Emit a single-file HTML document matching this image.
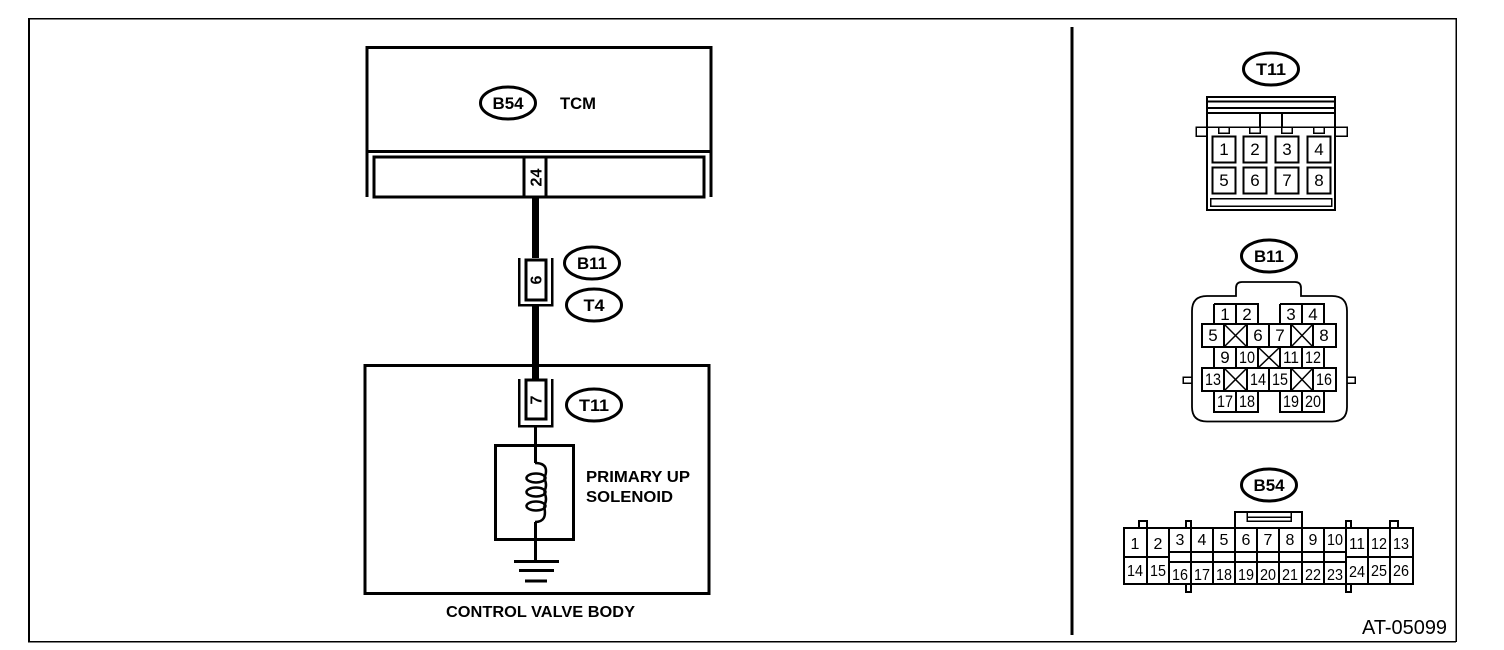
<!DOCTYPE html>
<html><head><meta charset="utf-8"><style>
html,body{margin:0;padding:0;background:#fff;width:1504px;height:650px;overflow:hidden}
svg{display:block}
text{font-family:"Liberation Sans",sans-serif;fill:#000}
.b{font-weight:bold}
.m{text-anchor:middle}
.l{fill:none;stroke:#000;shape-rendering:crispEdges}
.o{fill:#fff;stroke:#000;stroke-width:3}
.c{font-size:17px;text-anchor:middle}
.d{font-size:16px;text-anchor:middle}
</style></head><body>
<svg width="1504" height="650" viewBox="0 0 1504 650" xmlns="http://www.w3.org/2000/svg">
<!-- frame -->
<path class="l" stroke-width="1.5" d="M29 18.5H1456M1456 18V642M28 641.5H1456"/>
<path class="l" stroke-width="2" d="M29 18V642"/>
<path class="l" stroke-width="3" d="M1072 27V635"/>

<!-- TCM -->
<path class="l" stroke-width="3" d="M367 197V47.500H711V197M366 151.500H712"/>
<rect class="l" stroke-width="3" x="374" y="157" width="330" height="40"/>
<path class="l" stroke-width="3" d="M524 157V197M546 157V197"/>
<ellipse class="o" cx="508" cy="103" rx="27.500" ry="16"/>
<text class="b m" x="508" y="109" font-size="17" textLength="31" lengthAdjust="spacingAndGlyphs">B54</text>
<text class="b" x="560" y="109" font-size="17" textLength="36" lengthAdjust="spacingAndGlyphs">TCM</text>
<text class="b m" transform="translate(541.500,177.500) rotate(-90)" font-size="16" textLength="18" lengthAdjust="spacingAndGlyphs">24</text>

<!-- wires -->
<rect x="532" y="198" width="7" height="60" fill="#000"/>
<rect x="532" y="306" width="7" height="73" fill="#000"/>

<!-- B11 / T4 connector -->
<rect class="l" stroke-width="3" x="526" y="260" width="20" height="40" fill="#fff"/>
<path class="l" stroke-width="2.500" d="M519 258V305H552V258"/>
<text class="b m" transform="translate(541.500,280) rotate(-90)" font-size="16">6</text>
<ellipse class="o" cx="592" cy="263" rx="27.500" ry="16"/>
<text class="b m" x="592" y="269" font-size="17" textLength="30" lengthAdjust="spacingAndGlyphs">B11</text>
<ellipse class="o" cx="594" cy="305" rx="27.500" ry="16"/>
<text class="b m" x="594" y="311" font-size="17" textLength="21" lengthAdjust="spacingAndGlyphs">T4</text>

<!-- control valve body -->
<rect class="l" stroke-width="3" x="365" y="365.500" width="344" height="228"/>
<rect class="l" stroke-width="3" x="526" y="380" width="20" height="39" fill="#fff"/>
<path class="l" stroke-width="2.500" d="M519 379V426H552V379"/>
<text class="b m" transform="translate(541.500,400) rotate(-90)" font-size="16">7</text>
<ellipse class="o" cx="594" cy="405" rx="27.500" ry="16"/>
<text class="b m" x="594" y="411" font-size="17" textLength="30" lengthAdjust="spacingAndGlyphs">T11</text>
<path class="l" stroke-width="3" d="M535.500 427V463M535.500 522V561"/>
<rect class="l" stroke-width="3" x="495.500" y="445.500" width="78" height="94" fill="none"/>
<g fill="none" stroke="#000" stroke-width="2.500">
<ellipse cx="536" cy="478" rx="9.500" ry="4.500"/>
<ellipse cx="536" cy="492" rx="9.500" ry="4.500"/>
<ellipse cx="536" cy="506" rx="9.500" ry="4.500"/>
<path d="M535 463Q546 463 546 471Q546 475 544 478M544 478Q548 485 544 492M544 492Q548 499 544 506M544 506Q548 522 535 522"/>
</g>
<path class="l" stroke-width="3" d="M514 561.500H559M519 570.500H554M525 581H547"/>
<text class="b" x="586" y="482" font-size="16" textLength="104" lengthAdjust="spacingAndGlyphs">PRIMARY UP</text>
<text class="b" x="586" y="502" font-size="16" textLength="87" lengthAdjust="spacingAndGlyphs">SOLENOID</text>
<text class="b" x="446" y="617" font-size="16" textLength="189" lengthAdjust="spacingAndGlyphs">CONTROL VALVE BODY</text>

<!-- right T11 connector -->
<ellipse class="o" cx="1271" cy="69" rx="27.500" ry="16"/>
<text class="b m" x="1271" y="75" font-size="17" textLength="30" lengthAdjust="spacingAndGlyphs">T11</text>
<rect class="l" stroke-width="2" x="1207" y="97" width="128" height="113"/>
<path class="l" stroke-width="2" d="M1207 101.500H1335M1207 108H1335M1207 113H1335M1260 113V127M1282 113V127"/>
<rect class="l" stroke-width="1.500" x="1196" y="127" width="151" height="9"/>
<rect x="1208" y="128" width="126" height="10" fill="#fff"/>
<path class="l" stroke-width="1.500" d="M1218.500 127V133H1229V127M1249.500 127V133H1260V127M1281.500 127V133H1292V127M1313.500 127V133H1324V127"/>
<path class="l" stroke-width="2" d="M1207 127V136M1335 127V136"/>
<g class="l" stroke-width="2">
<rect x="1212.500" y="136.500" width="23" height="26"/><rect x="1243.500" y="136.500" width="23" height="26"/>
<rect x="1275.500" y="136.500" width="23" height="26"/><rect x="1307.500" y="136.500" width="23" height="26"/>
<rect x="1212.500" y="167.500" width="23" height="26"/><rect x="1243.500" y="167.500" width="23" height="26"/>
<rect x="1275.500" y="167.500" width="23" height="26"/><rect x="1307.500" y="167.500" width="23" height="26"/>
<rect x="1210.500" y="198.500" width="121" height="7.500" stroke-width="1.500"/>
</g>
<g class="c">
<text x="1224" y="155">1</text><text x="1255" y="155">2</text><text x="1287" y="155">3</text><text x="1319" y="155">4</text>
<text x="1224" y="186">5</text><text x="1255" y="186">6</text><text x="1287" y="186">7</text><text x="1319" y="186">8</text>
</g>

<!-- right B11 connector -->
<ellipse class="o" cx="1269" cy="256" rx="27.500" ry="16"/>
<text class="b m" x="1269" y="262" font-size="17" textLength="30" lengthAdjust="spacingAndGlyphs">B11</text>
<path fill="none" stroke="#000" stroke-width="1.800" d="M1236 296V288Q1236 282 1242 282H1295Q1301 282 1301 288V296H1332Q1347 296 1347 311V407Q1347 421.500 1332 421.500H1207Q1192 421.500 1192 407V311Q1192 296 1207 296Z"/>
<path class="l" stroke-width="1.500" d="M1192 377H1183V383H1192M1347 377H1355V383H1347"/>
<g class="l" stroke-width="2">
<path d="M1214 304H1258V324M1214 304V324M1236 304V324M1280 304H1324V324M1280 304V324M1302 304V324"/>
<path d="M1202 324H1336V347H1202ZM1224 324V347M1247 324V347M1269 324V347M1291 324V347M1313 324V347"/>
<path d="M1214 347V368M1236 347V368M1258 347V368M1280 347V368M1302 347V368M1324 347V368"/>
<path d="M1202 368H1336V391H1202ZM1224 368V391M1247 368V391M1269 368V391M1291 368V391M1313 368V391"/>
<path d="M1214 391V412H1258V391M1236 391V412M1280 391V412H1324V391M1302 391V412"/>
</g>
<path stroke="#000" stroke-width="1.500" fill="none" d="M1224 324L1247 347M1247 324L1224 347M1291 324L1313 347M1313 324L1291 347M1258 347L1280 368M1280 347L1258 368M1224 368L1247 391M1247 368L1224 391M1291 368L1313 391M1313 368L1291 391"/>
<g class="c">
<text x="1225" y="320">1</text><text x="1247" y="320">2</text><text x="1291" y="320">3</text><text x="1313" y="320">4</text>
<text x="1213" y="341">5</text><text x="1258" y="341">6</text><text x="1280" y="341">7</text><text x="1324" y="341">8</text>
<text x="1225" y="363">9</text><text x="1247" y="363" textLength="16" lengthAdjust="spacingAndGlyphs">10</text><text x="1291" y="363" textLength="16" lengthAdjust="spacingAndGlyphs">11</text><text x="1313" y="363" textLength="16" lengthAdjust="spacingAndGlyphs">12</text>
<text x="1213" y="385" textLength="16" lengthAdjust="spacingAndGlyphs">13</text><text x="1258" y="385" textLength="16" lengthAdjust="spacingAndGlyphs">14</text><text x="1280" y="385" textLength="16" lengthAdjust="spacingAndGlyphs">15</text><text x="1324" y="385" textLength="16" lengthAdjust="spacingAndGlyphs">16</text>
<text x="1225" y="407" textLength="16" lengthAdjust="spacingAndGlyphs">17</text><text x="1247" y="407" textLength="16" lengthAdjust="spacingAndGlyphs">18</text><text x="1291" y="407" textLength="16" lengthAdjust="spacingAndGlyphs">19</text><text x="1313" y="407" textLength="16" lengthAdjust="spacingAndGlyphs">20</text>
</g>

<!-- right B54 connector -->
<ellipse class="o" cx="1269" cy="485" rx="27.500" ry="16"/>
<text class="b m" x="1269" y="491" font-size="17" textLength="31" lengthAdjust="spacingAndGlyphs">B54</text>
<g class="l" stroke-width="2">
<rect x="1124" y="528" width="289" height="56" stroke-width="2"/>
<path d="M1147 528V584M1169 528V584M1191 528V584M1213 528V584M1235 528V584M1257 528V584M1279 528V584M1302 528V584M1324 528V584M1346 528V584M1368 528V584M1390 528V584"/>
<path d="M1124 557H1169M1346 557H1413M1169 552H1346M1169 562H1346"/>
<path stroke-width="2" d="M1235 528V512H1302V528"/>
<path stroke-width="1.500" d="M1247 512V521H1291V512M1247 517H1291"/>
<path d="M1139 528V521H1147V528M1186 528V521H1191V528M1186 584V592H1191V584M1346 528V521H1351V528M1346 584V592H1351V584M1390 528V521H1398V528"/>
</g>
<g class="d">
<text x="1135" y="549">1</text><text x="1158" y="549">2</text><text x="1180" y="545">3</text><text x="1202" y="545">4</text><text x="1224" y="545">5</text><text x="1246" y="545">6</text><text x="1268" y="545">7</text><text x="1290" y="545">8</text><text x="1313" y="545">9</text><text x="1335" y="545" textLength="16" lengthAdjust="spacingAndGlyphs">10</text><text x="1357" y="549" textLength="16" lengthAdjust="spacingAndGlyphs">11</text><text x="1379" y="549" textLength="16" lengthAdjust="spacingAndGlyphs">12</text><text x="1401" y="549" textLength="16" lengthAdjust="spacingAndGlyphs">13</text>
<text x="1135" y="576" textLength="16" lengthAdjust="spacingAndGlyphs">14</text><text x="1158" y="576" textLength="16" lengthAdjust="spacingAndGlyphs">15</text><text x="1180" y="580" textLength="16" lengthAdjust="spacingAndGlyphs">16</text><text x="1202" y="580" textLength="16" lengthAdjust="spacingAndGlyphs">17</text><text x="1224" y="580" textLength="16" lengthAdjust="spacingAndGlyphs">18</text><text x="1246" y="580" textLength="16" lengthAdjust="spacingAndGlyphs">19</text><text x="1268" y="580" textLength="16" lengthAdjust="spacingAndGlyphs">20</text><text x="1290" y="580" textLength="16" lengthAdjust="spacingAndGlyphs">21</text><text x="1313" y="580" textLength="16" lengthAdjust="spacingAndGlyphs">22</text><text x="1335" y="580" textLength="16" lengthAdjust="spacingAndGlyphs">23</text><text x="1357" y="577" textLength="16" lengthAdjust="spacingAndGlyphs">24</text><text x="1379" y="576" textLength="16" lengthAdjust="spacingAndGlyphs">25</text><text x="1401" y="576" textLength="16" lengthAdjust="spacingAndGlyphs">26</text>
</g>

<text x="1362" y="634" font-size="20" textLength="85" lengthAdjust="spacingAndGlyphs">AT-05099</text>
</svg>
</body></html>
